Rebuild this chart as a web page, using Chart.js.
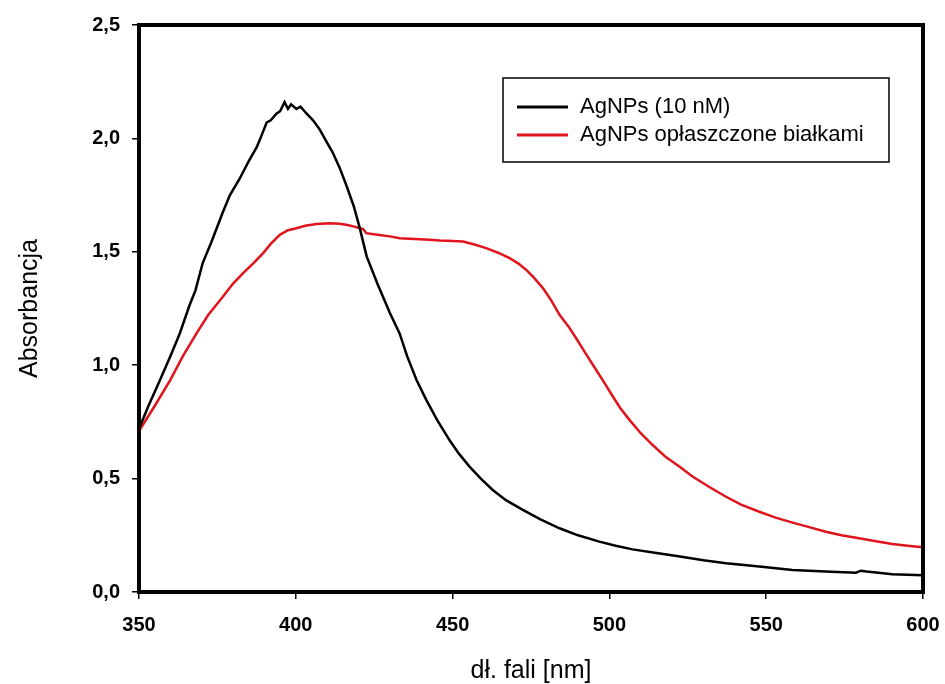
<!DOCTYPE html>
<html lang="pl">

<head>
    <meta charset="UTF-8">
    <title>Absorbancja AgNPs</title>
    <script src="https://cdn.jsdelivr.net/npm/chart.js"></script>
    <style>
        body { margin: 0; background: #fff; }
        #wrap { width: 945px; height: 684px; }
    </style>
</head>

<body>
    <div id="wrap"><canvas id="grafico"></canvas></div>

<script>
    // dane
    const nazwy = ['AgNPs (10 nM)', 'AgNPs opłaszczone białkami']
    const kolory = ['#000000', '#e0141c']

    const dlFaliA = [350, 353, 356.7, 360, 363, 366, 368, 370.3, 373, 376.6, 379, 382, 385, 387.5, 389, 390.7, 392, 393.9, 395, 396.4,
        397.5, 398.5, 400.2, 401.5, 403.4, 405.5, 407.6, 410, 411.7, 414, 416.2, 418.5, 420.3, 422.6, 426, 430, 433.1, 435.5, 438.5,
        441.6, 445, 449, 452, 455.4, 459, 462.8, 467, 472.4, 478, 484.1, 490, 496.8, 502, 507.4, 515, 522, 530, 537.2, 547.8, 558.4,
        569, 578.6, 580.2, 582, 590.2, 600]
    const absA = [0.72, 0.82, 0.935, 1.04, 1.14, 1.26, 1.33, 1.45, 1.54, 1.67, 1.75, 1.82, 1.90, 1.96, 2.01, 2.07, 2.08, 2.11, 2.12, 2.16,
        2.13, 2.15, 2.13, 2.14, 2.11, 2.08, 2.04, 1.98, 1.94, 1.87, 1.79, 1.70, 1.61, 1.48, 1.36, 1.23, 1.14, 1.04, 0.935,
        0.847, 0.76, 0.67, 0.61, 0.553, 0.50, 0.45, 0.405, 0.362, 0.32, 0.281, 0.25, 0.222, 0.204, 0.188, 0.172, 0.158, 0.140, 0.127, 0.112, 0.097,
        0.090, 0.085, 0.094, 0.090, 0.078, 0.074]

    const dlFaliB = [350, 355, 360, 364, 368.4, 372, 376.8, 380, 383.2, 386.5, 389.6, 392, 394.9, 397.5, 400.2, 403, 406.6, 410.8, 414, 416.1,
        419, 420.4, 421.5, 422.5, 426, 430, 433.1, 438, 442.7, 445.9, 450, 453.3, 457, 460.7, 464.5, 468.2, 471, 473.5, 476, 478.8,
        481.5, 484.1, 487, 489.4, 492.5, 495.8, 498.5, 501.1, 503.5, 506.4, 510, 513.8, 518, 522.3, 526.5, 532, 537.2, 542, 547.8, 553,
        558.4, 564, 569, 574, 579.6, 585, 590.2, 595, 600]
    const absB = [0.71, 0.82, 0.935, 1.04, 1.141, 1.22, 1.303, 1.36, 1.406, 1.45, 1.494, 1.535, 1.575, 1.595, 1.604, 1.615, 1.623, 1.626, 1.624, 1.619,
        1.61, 1.604, 1.60, 1.582, 1.575, 1.568, 1.560, 1.556, 1.553, 1.550, 1.548, 1.545, 1.532, 1.516, 1.496, 1.472, 1.448, 1.420, 1.385, 1.340,
        1.285, 1.222, 1.170, 1.119, 1.05, 0.979, 0.92, 0.862, 0.81, 0.759, 0.70, 0.648, 0.595, 0.553, 0.509, 0.462, 0.420, 0.385, 0.354, 0.328,
        0.306, 0.285, 0.266, 0.250, 0.237, 0.224, 0.212, 0.204, 0.197]

    const ticksX = [350, 400, 450, 500, 550, 600]
    const ticksY = [0, 0.5, 1.0, 1.5, 2.0, 2.5]

    function punkty(xs, ys) {
        let pts = []
        for (let i = 0; i < xs.length; i++) {
            pts.push({ x: xs[i], y: ys[i] })
        }
        return pts
    }

    // ramka wokol obszaru wykresu + legenda w ramce
    const ramka = {
        id: 'ramka',
        afterDraw(chart) {
            const ctx = chart.ctx
            const a = chart.chartArea
            ctx.save()
            ctx.strokeStyle = '#000'
            ctx.lineWidth = 4
            ctx.strokeRect(a.left, a.top, a.right - a.left, a.bottom - a.top)

            // legenda
            ctx.lineWidth = 1.5
            ctx.strokeRect(503, 78, 386, 84)
            ctx.font = '22px "Liberation Sans", Arial, sans-serif'
            ctx.textBaseline = 'middle'
            ctx.fillStyle = '#000'
            chart.data.datasets.forEach(function (ds, i) {
                const y = 107 + i * 28
                ctx.strokeStyle = ds.borderColor
                ctx.lineWidth = 3
                ctx.beginPath()
                ctx.moveTo(517, y)
                ctx.lineTo(568, y)
                ctx.stroke()
                ctx.fillText(ds.label, 580, y)
            })
            ctx.restore()
        }
    }

    const fontTick = { family: '"Liberation Sans", Arial, sans-serif', size: 20, weight: 'bold' }
    const fontTytul = { family: '"Liberation Sans", Arial, sans-serif', size: 25, lineHeight: 1 }

    new Chart(document.getElementById('grafico'), {
        type: 'line',
        data: {
            datasets: [
                {
                    label: nazwy[0],
                    data: punkty(dlFaliA, absA),
                    borderColor: kolory[0],
                    borderWidth: 2.5,
                    pointRadius: 0,
                    tension: 0,
                    fill: false
                },
                {
                    label: nazwy[1],
                    data: punkty(dlFaliB, absB),
                    borderColor: kolory[1],
                    borderWidth: 2.5,
                    pointRadius: 0,
                    tension: 0,
                    fill: false
                }
            ]
        },
        options: {
            responsive: true,
            maintainAspectRatio: false,
            animation: false,
            layout: {
                padding: { top: 25, right: 22, left: 0, bottom: 0 }
            },
            plugins: {
                legend: { display: false },
                tooltip: { enabled: false }
            },
            scales: {
                x: {
                    type: 'linear',
                    min: 350,
                    max: 600,
                    afterBuildTicks: function (s) { s.ticks = ticksX.map(v => ({ value: v })) },
                    afterFit: function (s) {
                        s.height = 92
                        s.paddingLeft = 0
                        s.paddingRight = 0
                    },
                    ticks: {
                        color: '#000',
                        font: fontTick,
                        padding: 14
                    },
                    grid: {
                        drawOnChartArea: false,
                        drawTicks: true,
                        tickLength: 7,
                        color: '#000',
                        lineWidth: 1.5
                    },
                    border: { display: false },
                    title: {
                        display: true,
                        text: 'dł. fali [nm]',
                        color: '#000',
                        font: fontTytul,
                        padding: 0
                    }
                },
                y: {
                    min: 0,
                    max: 2.5,
                    afterBuildTicks: function (s) { s.ticks = ticksY.map(v => ({ value: v })) },
                    afterFit: function (s) {
                        s.width = 139
                        s.paddingTop = 0
                        s.paddingBottom = 0
                    },
                    ticks: {
                        color: '#000',
                        font: fontTick,
                        padding: 12,
                        callback: function (v) { return v.toFixed(1).replace('.', ',') }
                    },
                    grid: {
                        drawOnChartArea: false,
                        drawTicks: true,
                        tickLength: 7,
                        color: '#000',
                        lineWidth: 1.5
                    },
                    border: { display: false },
                    title: {
                        display: true,
                        text: 'Absorbancja',
                        color: '#000',
                        font: fontTytul,
                        padding: { top: 18, bottom: 0 }
                    }
                }
            }
        },
        plugins: [ramka]
    });
</script>
</body>

</html>
